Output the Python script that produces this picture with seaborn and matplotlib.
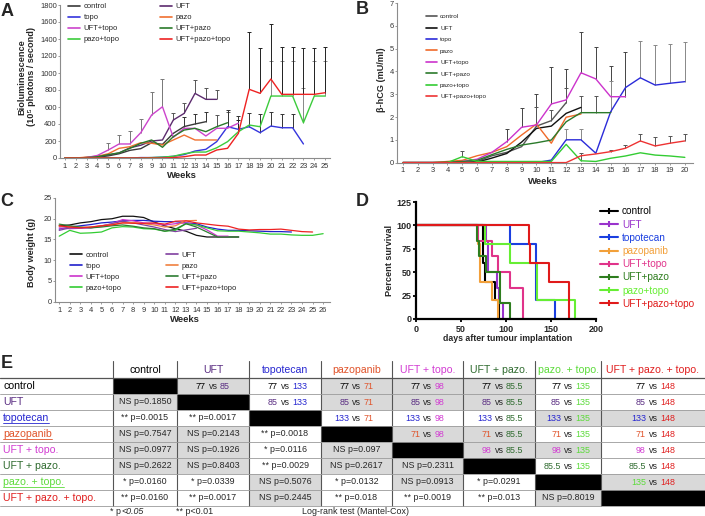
import numpy as np
import pandas as pd
import matplotlib
matplotlib.use("Agg")
import matplotlib.pyplot as plt
import seaborn as sns
from matplotlib.patches import Rectangle
from matplotlib.lines import Line2D

sns.set_style("ticks")
plt.rcParams["font.family"] = ["Liberation Sans", "DejaVu Sans"]

nan = np.nan

# ---------------- Panel A : bioluminescence ----------------
A_weeks = list(range(1, 26))
A_groups = ["control", "UFT", "topo", "pazo", "UFT+topo", "UFT+pazo", "pazo+topo", "UFT+pazo+topo"]
A_colors = ["#3a3a3a", "#5c2b6e", "#3535dd", "#f07030", "#cc44cc", "#2a7a2a", "#3ccc3c", "#ee2222"]
A_control = [0, 0, 5, 10, 25, 50, 90, 110, 180, 160, 290, 370, 400, 427] + [nan] * 11
A_UFT = [0, 0, 5, 15, 35, 60, 120, 150, 200, 212, 447, 525, 760, 690, 690] + [nan] * 10
A_topo = [0, 0, 0, 0, 0, 0, 0, 5, 5, 10, 20, 40, 82, 102, 192, 368, 337, 368, 298, 376, 356, 356, 165] + [nan] * 2
A_pazo = [0, 0, 10, 20, 50, 114, 133, 180, 173, 153, 212, 270, 212, 212, 212] + [nan] * 10
A_UFTtopo = [0, 0, 5, 30, 94, 165, 165, 298, 506, 603, 243, 349, 349, 259, 349, 350, 410] + [nan] * 8
A_UFTpazo = [0, 0, 5, 15, 40, 60, 114, 173, 212, 126, 251, 329, 349, 310, 368, 415] + [nan] * 9
A_pazotopo = [0, 0, 0, 0, 0, 0, 0, 0, 5, 10, 20, 50, 70, 70, 120, 192, 309, 388, 368, 729, 729, 729, 415, 729, 729]
A_all3 = [0, 0, 0, 0, 0, 0, 0, 0, 0, 0, 5, 15, 35, 35, 94, 114, 290, 808, 761, 929, 749, 749, 749, 749, 768]
A_series = [A_control, A_UFT, A_topo, A_pazo, A_UFTtopo, A_UFTpazo, A_pazotopo, A_all3]

# upper error bars (week, top)
A_errUFTtopo_w = [5, 6, 7, 8, 9, 10]
A_errUFTtopo_top = [180, 270, 317, 455, 780, 929]
A_errUFT_w = [11, 12, 13, 14, 15]
A_errUFT_top = [533, 643, 917, 820, 800]
A_errcontrol_w = [12, 13, 14]
A_errcontrol_top = [478, 517, 545]
A_errUFTpazo_w = [15, 16]
A_errUFTpazo_top = [506, 545]
A_errtopo_w = [16, 17, 18, 19, 20, 21, 22]
A_errtopo_top = [560, 500, 533, 520, 540, 520, 520]
A_errpazotopo_w = [20, 21, 22, 23, 24, 25]
A_errpazotopo_top = [1140, 1140, 1140, 820, 1140, 1140]
A_errall3_w = [17, 18, 19, 20, 21, 22, 23, 24, 25]
A_errall3_top = [450, 1478, 1294, 1576, 1300, 1300, 1295, 1295, 1310]

# ---------------- Panel B : beta-hCG ----------------
B_weeks = list(range(1, 21))
B_groups = ["control", "UFT", "topo", "pazo", "UFT+topo", "UFT+pazo", "pazo+topo", "UFT+pazo+topo"]
B_colors = ["#555555", "#111111", "#2b2bd9", "#f06a2a", "#cc33cc", "#2b7a2b", "#33cc33", "#ee3333"]
B_control = [0, 0, 0, 0, 0, 0.05, 0.3, 0.45, 0.7, 1.6, 1.84, 2.63] + [nan] * 8
B_UFT = [0, 0, 0, 0, 0, 0.02, 0.2, 0.4, 0.9, 1.5, 1.6, 2.16, 2.42] + [nan] * 7
B_topo = [0, 0, 0, 0, 0, 0, 0, 0, 0, 0, 0.11, 1.0, 1.0, 0.41, 2.23, 3.29, 3.72, 3.40, 3.48, 3.55]
B_pazo = [0, 0, 0, 0.05, 0.1, 0.3, 0.45, 0.7, 1.21, 1.69, 0.85, 1.99, 2.13] + [nan] * 7
B_UFTtopo = [0, 0, 0, 0, 0.05, 0.15, 0.45, 0.92, 1.55, 1.65, 2.57, 2.75, 3.94, 3.67, 2.89, 2.89] + [nan] * 4
B_UFTpazo = [0, 0, 0, 0.02, 0.05, 0.1, 0.35, 0.58, 0.77, 0.87, 0.99, 1.79, 2.19, 2.19, 2.19] + [nan] * 5
B_pazotopo = [0, 0, 0, 0, 0.26, 0.05, 0.05, 0.05, 0.05, 0.05, 0.05, 0.8, 0.08, 0.05, 0.19, 0.29, 0.43, 0.33, 0.29, 0.23]
B_all3 = [0, 0, 0, 0, 0, 0, 0, 0, 0, 0, 0, 0, 0.3, 0.38, 0.48, 0.63, 0.95, 0.73, 0.85, 0.95]
B_series = [B_control, B_UFT, B_topo, B_pazo, B_UFTtopo, B_UFTpazo, B_pazotopo, B_all3]

B_errUFTtopo_w = [8, 9, 10, 11, 12, 13, 14, 15, 16]
B_errUFTtopo_top = [1.46, 2.41, 3.0, 4.18, 4.09, 5.71, 5.07, 4.22, 4.85]
B_errtopo_w = [12, 13, 15, 17, 18, 19, 20]
B_errtopo_top = [1.46, 1.46, 3.57, 5.32, 5.15, 5.2, 5.27]
B_errcontrol_w = [10, 11, 12]
B_errcontrol_top = [2.45, 2.3, 3.28]
B_errUFTpazo_w = [13, 14]
B_errUFTpazo_top = [2.9, 2.9]
B_errall3_w = [15, 16, 17, 18, 19, 20]
B_errall3_top = [0.55, 0.77, 1.24, 1.11, 1.17, 1.24]
B_errpazotopo_w = [5, 13]
B_errpazotopo_top = [0.5, 0.42]

# ---------------- Panel C : body weight ----------------
C_weeks = list(range(1, 27))
C_groups = ["control", "topo", "UFT+topo", "pazo+topo", "UFT", "pazo", "UFT+pazo", "UFT+pazo+topo"]
C_colors = ["#111111", "#2020cc", "#cc33cc", "#33cc33", "#8040a0", "#f08040", "#2e7d32", "#ee2222"]
C_control = [18.3, 18.5, 19.0, 19.3, 19.8, 20.0, 20.6, 20.6, 20.3, 19.2, 18.3, 17.6, 17.0, 16.0, 15.6, 15.6, 15.6, 15.6] + [nan] * 8
C_topo = [17.5, 18.0, 18.3, 18.6, 19.0, 19.2, 19.5, 19.6, 19.6, 19.4, 19.3, 19.3, 19.0, 18.8, 18.0, 17.5, 17.2, 17.2, 17.1, 17.0, 16.9, 16.9, 16.8] + [nan] * 3
C_UFTtopo = [17.8, 17.6, 17.7, 17.9, 18.3, 18.8, 19.8, 19.5, 19.0, 18.8, 18.5, 18.8, 19.0, 18.5, 17.3, 15.8, 15.8] + [nan] * 9
C_pazotopo = [15.8, 17.2, 16.5, 16.6, 16.8, 17.8, 18.1, 18.0, 17.6, 17.5, 17.0, 17.2, 18.8, 18.5, 17.8, 17.1, 17.0, 17.0, 16.8, 16.6, 16.3, 16.3, 16.1, 16.0, 16.0, 16.4]
C_UFT = [17.2, 17.8, 17.8, 17.8, 18.2, 18.8, 19.4, 19.0, 18.5, 18.0, 17.4, 16.9, 17.3, 17.7] + [nan] * 12
C_pazo = [18.2, 18.0, 17.9, 18.0, 18.3, 18.6, 19.0, 19.1, 18.8, 18.5, 18.0, 18.3, 19.5, 19.6] + [nan] * 12
C_UFTpazo = [18.7, 18.3, 18.0, 17.8, 18.0, 18.3, 18.5, 18.2, 17.8, 17.6, 17.0, 17.5, 18.8, 18.0, 16.8, 15.6, 15.6, 15.6] + [nan] * 8
C_all3 = [18.3, 18.0, 17.8, 18.0, 18.3, 18.5, 19.0, 18.9, 18.9, 19.0, 18.7, 19.4, 19.5, 19.0, 18.7, 18.4, 18.2, 17.5, 17.3, 17.4, 17.4, 17.5, 17.2, 16.9, 16.8] + [nan]
C_series = [C_control, C_topo, C_UFTtopo, C_pazotopo, C_UFT, C_pazo, C_UFTpazo, C_all3]

# ---------------- Panel D : survival ----------------
D_groups = ["control", "UFT", "topotecan", "pazopanib", "UFT+topo", "UFT+pazo", "pazo+topo", "UFT+pazo+topo"]
D_colors = ["#000000", "#9933cc", "#1a3fe0", "#f2a03a", "#e0338a", "#2e7d1e", "#66ee33", "#e01a1a"]
D_control_t = [0, 75, 77, 88, 92]
D_control_s = [100, 60, 40, 20, 0]
D_UFT_t = [0, 78, 80, 90, 92, 97]
D_UFT_s = [100, 83, 50, 33, 17, 0]
D_topo_t = [0, 105, 133, 155]
D_topo_s = [100, 80, 20, 0]
D_pazo_t = [0, 69, 71, 84, 91]
D_pazo_s = [100, 80, 40, 20, 0]
D_UFTtopo_t = [0, 69, 84, 91, 104.5, 118.5]
D_UFTtopo_s = [100, 83, 67, 50, 33, 0]
D_UFTpazo_t = [0, 68, 70, 78, 93, 105]
D_UFTpazo_s = [100, 83, 67, 50, 17, 0]
D_pazotopo_t = [0, 77, 105, 134, 177]
D_pazotopo_s = [100, 80, 60, 20, 0]
D_all3_t = [0, 125.5, 127, 148, 170]
D_all3_s = [100, 80, 60, 40, 0]
D_times = [D_control_t, D_UFT_t, D_topo_t, D_pazo_t, D_UFTtopo_t, D_UFTpazo_t, D_pazotopo_t, D_all3_t]
D_surv = [D_control_s, D_UFT_s, D_topo_s, D_pazo_s, D_UFTtopo_s, D_UFTpazo_s, D_pazotopo_s, D_all3_s]

# ---------------- Panel E : table ----------------
E_names = ["control", "UFT", "topotecan", "pazopanib", "UFT + topo.", "UFT + pazo.", "pazo. + topo.", "UFT + pazo. + topo."]
E_colors = ["#000000", "#5a2d82", "#2626d0", "#e0532a", "#d23cd2", "#2f6b2f", "#5cdb3a", "#e01f1f"]
E_medians = ["77", "85", "133", "71", "98", "85.5", "135", "148"]
E_underlined = ["topotecan", "pazopanib", "pazo. + topo."]
E_p_UFT = ["NS p=0.1850"]
E_p_topo = ["** p=0.0015", "** p=0.0017"]
E_p_pazo = ["NS p=0.7547", "NS p=0.2143", "** p=0.0018"]
E_p_UFTtopo = ["NS p=0.0977", "NS p=0.1926", "* p=0.0116", "NS p=0.097"]
E_p_UFTpazo = ["NS p=0.2622", "NS p=0.8403", "** p=0.0029", "NS p=0.2617", "NS p=0.2311"]
E_p_pazotopo = ["* p=0.0160", "* p=0.0339", "NS p=0.5076", "* p=0.0132", "NS p=0.0913", "* p=0.0291"]
E_p_all3 = ["** p=0.0160", "** p=0.0017", "NS p=0.2445", "** p=0.018", "** p=0.0019", "** p=0.013", "NS p=0.8019"]
E_lower = [[], E_p_UFT, E_p_topo, E_p_pazo, E_p_UFTtopo, E_p_UFTpazo, E_p_pazotopo, E_p_all3]

W, H = 705, 516
fig = plt.figure(figsize=(W / 100, H / 100), dpi=100)
cv = fig.add_axes([0, 0, 1, 1])
cv.set_xlim(0, W)
cv.set_ylim(H, 0)
cv.axis("off")


def rect(x0, y0, x1, y1):
    return [x0 / W, 1 - y1 / H, (x1 - x0) / W, (y1 - y0) / H]


axA = fig.add_axes(rect(60, 5, 330, 158))
axB = fig.add_axes(rect(397, 3, 693, 162.6))
axC = fig.add_axes(rect(55, 198, 330, 301.7))
axD = fig.add_axes(rect(416, 202, 596, 319))


def long_df(weeks, groups, series):
    rows = []
    for g, vals in zip(groups, series):
        for w, v in zip(weeks, vals):
            if not np.isnan(v):
                rows.append((w, v, g))
    return pd.DataFrame(rows, columns=["week", "value", "group"])


def style_weeks(ax):
    for s in ["top", "right"]:
        ax.spines[s].set_visible(False)
    for s in ["left", "bottom"]:
        ax.spines[s].set_color("#8c8c8c")
        ax.spines[s].set_linewidth(0.8)
    ax.tick_params(axis="both", which="both", direction="out", length=1.5, width=0.6,
                   color="#8c8c8c", labelsize=5.4, labelcolor="#333333", left=True, bottom=True)
    ax.tick_params(axis="x", pad=2)
    ax.tick_params(axis="y", pad=0.8)
    ax.set_xlabel("")
    ax.set_ylabel("")


def upper_err(ax, weeks, series, ws, tops, color="#333333"):
    bottoms = [series[weeks.index(w)] for w in ws]
    ax.vlines(ws, bottoms, tops, colors=color, lw=0.7, zorder=1)
    ax.plot(ws, tops, ls="none", marker="_", ms=2.5, mew=0.7, color=color, zorder=1)


# ---- A ----
dfA = long_df(A_weeks, A_groups, A_series)
upper_err(axA, A_weeks, A_UFTtopo, A_errUFTtopo_w, A_errUFTtopo_top, "#777777")
upper_err(axA, A_weeks, A_UFT, A_errUFT_w, A_errUFT_top, "#555555")
upper_err(axA, A_weeks, A_control, A_errcontrol_w, A_errcontrol_top, "#333333")
upper_err(axA, A_weeks, A_UFTpazo, A_errUFTpazo_w, A_errUFTpazo_top, "#555555")
upper_err(axA, A_weeks, A_topo, A_errtopo_w, A_errtopo_top, "#333333")
upper_err(axA, A_weeks, A_pazotopo, A_errpazotopo_w, A_errpazotopo_top, "#888888")
upper_err(axA, A_weeks, A_all3, A_errall3_w, A_errall3_top, "#222222")
sns.lineplot(data=dfA, x="week", y="value", hue="group", hue_order=A_groups,
             palette=dict(zip(A_groups, A_colors)), estimator=None, errorbar=None,
             lw=1.0, legend=False, ax=axA)
axA.set_xlim(0.55, 25.45)
axA.set_ylim(0, 1800)
axA.set_xticks(A_weeks)
axA.set_yticks(range(0, 1801, 200))
style_weeks(axA)
order_A = [0, 2, 4, 6, 1, 3, 5, 7]
hA = [Line2D([], [], color=A_colors[i], lw=1.2) for i in order_A]
lA = [A_groups[i] for i in order_A]
legA = axA.legend(hA, lA, ncol=2, loc="upper left", bbox_to_anchor=(68 / W, 1 - 3 / H),
                  bbox_transform=fig.transFigure, frameon=False, fontsize=5.5, handlelength=1.6,
                  handletextpad=0.45, columnspacing=5.3, labelspacing=0.48, borderpad=0, borderaxespad=0)

# ---- B ----
dfB = long_df(B_weeks, B_groups, B_series)
upper_err(axB, B_weeks, B_UFTtopo, B_errUFTtopo_w, B_errUFTtopo_top, "#444444")
upper_err(axB, B_weeks, B_topo, B_errtopo_w, B_errtopo_top, "#888888")
upper_err(axB, B_weeks, B_control, B_errcontrol_w, B_errcontrol_top, "#555555")
upper_err(axB, B_weeks, B_UFTpazo, B_errUFTpazo_w, B_errUFTpazo_top, "#555555")
upper_err(axB, B_weeks, B_all3, B_errall3_w, B_errall3_top, "#555555")
upper_err(axB, B_weeks, B_pazotopo, B_errpazotopo_w, B_errpazotopo_top, "#555555")
sns.lineplot(data=dfB, x="week", y="value", hue="group", hue_order=B_groups,
             palette=dict(zip(B_groups, B_colors)), estimator=None, errorbar=None,
             lw=1.0, legend=False, ax=axB)
axB.set_xlim(0.6, 20.55)
axB.set_ylim(0, 7)
axB.set_xticks(B_weeks)
axB.set_yticks(range(0, 8))
style_weeks(axB)
hB = [Line2D([], [], color=c, lw=1.2) for c in B_colors]
legB = axB.legend(hB, B_groups, ncol=1, loc="upper left", bbox_to_anchor=(426 / W, 1 - 14 / H),
                  bbox_transform=fig.transFigure, frameon=False, fontsize=4.6, handlelength=1.7,
                  handletextpad=0.5, labelspacing=0.93, borderpad=0, borderaxespad=0)

# ---- C ----
dfC = long_df(C_weeks, C_groups, C_series)
sns.lineplot(data=dfC, x="week", y="value", hue="group", hue_order=C_groups,
             palette=dict(zip(C_groups, C_colors)), estimator=None, errorbar=None,
             lw=0.9, legend=False, ax=axC)
axC.set_xlim(0.6, 26.65)
axC.set_ylim(0, 25)
axC.set_xticks(C_weeks)
axC.set_yticks(range(0, 26, 5))
style_weeks(axC)
hC = [Line2D([], [], color=c, lw=1.2) for c in C_colors]
legC = axC.legend(hC, C_groups, ncol=2, loc="upper left", bbox_to_anchor=(70 / W, 1 - 251.5 / H),
                  bbox_transform=fig.transFigure, frameon=False, fontsize=5.5, handlelength=1.6,
                  handletextpad=0.45, columnspacing=5.8, labelspacing=0.47, borderpad=0, borderaxespad=0)

# ---- D ----
rowsD = []
for g, ts, ss in zip(D_groups, D_times, D_surv):
    for t, s in zip(ts, ss):
        rowsD.append((t, s, g))
dfD = pd.DataFrame(rowsD, columns=["days", "survival", "group"])
sns.lineplot(data=dfD, x="days", y="survival", hue="group", hue_order=D_groups,
             palette=dict(zip(D_groups, D_colors)), estimator=None, errorbar=None, sort=False,
             drawstyle="steps-post", lw=1.5, legend=False, ax=axD)
axD.set_xlim(0, 200)
axD.set_ylim(0, 125)
axD.set_xticks(range(0, 201, 50))
axD.set_yticks(range(0, 126, 25))
for s in ["top", "right"]:
    axD.spines[s].set_visible(False)
for s in ["left", "bottom"]:
    axD.spines[s].set_color("black")
    axD.spines[s].set_linewidth(1.6)
axD.tick_params(axis="both", direction="out", length=2.5, width=1.3, color="black",
                labelsize=6.5, left=True, bottom=True)
axD.tick_params(axis="y", pad=0.5)
axD.tick_params(axis="x", pad=2.0)
for lab in axD.get_xticklabels() + axD.get_yticklabels():
    lab.set_fontweight("bold")
axD.set_xlabel("")
axD.set_ylabel("")
hD = [Line2D([], [], color=c, lw=1.5, marker="|", ms=5, mew=1.5) for c in D_colors]
legD = axD.legend(hD, D_groups, ncol=1, loc="upper left", bbox_to_anchor=(600 / W, 1 - 206.5 / H),
                  bbox_transform=fig.transFigure, frameon=False, fontsize=7.2, handlelength=1.8,
                  handletextpad=0.4, labelspacing=0.32, borderpad=0, borderaxespad=0, numpoints=1)
for t, c in zip(legD.get_texts(), D_colors):
    t.set_color(c)

# ---- axis titles and panel letters ----
cv.text(27, 77, "Bioluminescence\n(10\u2075 photons / second)", rotation=90, ha="center", va="center",
        fontsize=6.6, fontweight="bold", linespacing=1.1)
cv.text(182, 176, "Weeks", ha="center", va="center", fontsize=6.8, fontweight="bold")
cv.text(382, 80, "\u03b2-hCG (mU/ml)", rotation=90, ha="center", va="center", fontsize=6.6, fontweight="bold")
cv.text(543, 181, "Weeks", ha="center", va="center", fontsize=6.8, fontweight="bold")
cv.text(32, 252, "Body weight (g)", rotation=90, ha="center", va="center", fontsize=6.6, fontweight="bold")
cv.text(185, 320, "Weeks", ha="center", va="center", fontsize=6.8, fontweight="bold")
cv.text(390, 260, "Percent survival", rotation=90, ha="center", va="center", fontsize=6.6, fontweight="bold")
cv.text(508, 338.5, "days after tumour implantation", ha="center", va="center", fontsize=6.3, fontweight="bold")
for letter, (x, y) in zip("ABCDE", [(7, 11), (362, 10), (7, 202), (362, 201), (7, 363)]):
    cv.text(x, y, letter, ha="center", va="center", fontsize=13, fontweight="bold")

# ---- table ----
col_edges = [0, 113, 177, 249, 321, 392, 463, 535, 601, 705]
top_y, head_y, row_h = 361, 378, 16
n = len(E_names)
gray = "#d9d9d9"
fs_cell = 6.4
for j in range(n):
    cx = (col_edges[j + 1] + col_edges[j + 2]) / 2
    cv.text(cx, 370, E_names[j], color=E_colors[j], ha="center", va="center", fontsize=7.6)
label_texts = {}
for i in range(n):
    y0 = head_y + i * row_h
    cy = y0 + row_h / 2
    label_texts[E_names[i]] = cv.text(3, cy, E_names[i], color=E_colors[i], fontsize=7.6,
                                      ha="left", va="center")
    for j in range(n):
        x0, x1 = col_edges[j + 1], col_edges[j + 2]
        cx = (x0 + x1) / 2
        if i == j:
            cv.add_patch(Rectangle((x0, y0), x1 - x0, row_h, facecolor="black", edgecolor="none", zorder=1))
            continue
        pstr = E_lower[i][j] if j < i else E_lower[j][i]
        if pstr.startswith("NS"):
            cv.add_patch(Rectangle((x0, y0), x1 - x0, row_h, facecolor=gray, edgecolor="none", zorder=1))
        if j < i:
            cv.text(cx, cy, pstr, ha="center", va="center", fontsize=fs_cell, zorder=3)
        else:
            cv.text(cx, cy + 0.5, "vs", ha="center", va="center", fontsize=fs_cell, zorder=3)
            cv.text(cx - 7, cy + 0.5, E_medians[i], ha="right", va="center", fontsize=fs_cell,
                    color=E_colors[i], zorder=3)
            cv.text(cx + 7, cy + 0.5, E_medians[j], ha="left", va="center", fontsize=fs_cell,
                    color=E_colors[j], zorder=3)
bottom_y = head_y + n * row_h
for x in col_edges[1:-1]:
    cv.plot([x, x], [top_y, bottom_y], color="#555555", lw=0.8, zorder=2)
cv.plot([0, W], [head_y, head_y], color="#555555", lw=0.9, zorder=2)
for k in range(1, n + 1):
    cv.plot([0, W], [head_y + k * row_h] * 2, color="#9a9a9a", lw=0.6, zorder=2)

foot_star = cv.text(110, 511, "* p", ha="left", va="center", fontsize=fs_cell)
cv.text(176, 511, "** p<0.01", ha="left", va="center", fontsize=fs_cell)
cv.text(302, 511, "Log-rank test (Mantel-Cox)", ha="left", va="center", fontsize=fs_cell)

fig.canvas.draw()
renderer = fig.canvas.get_renderer()
inv = cv.transData.inverted()
fb = foot_star.get_window_extent(renderer)
fx = inv.transform((fb.x1, fb.y0))[0]
cv.text(fx + 0.3, 511, "<0.05", ha="left", va="center", fontsize=fs_cell, style="italic")
for name in E_underlined:
    t = label_texts[name]
    bb = t.get_window_extent(renderer)
    (ux0, uy), (ux1, _) = inv.transform([(bb.x0, bb.y0), (bb.x1, bb.y0)])
    i = E_names.index(name)
    yline = head_y + i * row_h + row_h / 2 + 5
    cv.plot([ux0, ux1], [yline, yline], color=t.get_color(), lw=0.6, zorder=3)

fig.savefig("out.png", dpi=100)
